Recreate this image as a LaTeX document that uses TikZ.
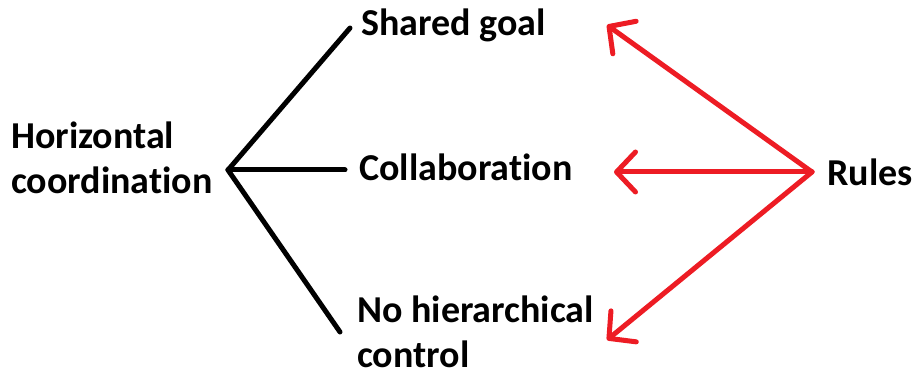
\documentclass[tikz,border=0pt]{standalone}
\usepackage{fontspec}
\setmainfont{Carlito}[Ligatures=NoCommon]
\usetikzlibrary{arrows.meta}
\definecolor{rulered}{RGB}{237,28,36}
\tikzset{
	lbl/.style={inner sep=0pt,anchor=west,align=left,font=\fontsize{38}{45}\selectfont\bfseries},
	branch/.style={line width=5pt,line cap=round,line join=round},
	ruleto/.style={rulered,line width=5pt,line cap=round,-{Straight Barb[length=19pt,width=40pt,round]}}
}
\begin{document}
\begin{tikzpicture}[x=1pt,y=-1pt]
				\useasboundingbox (0,0) rectangle (914,374);
				\node[lbl] (HC) at (11,158) {Horizontal\\coordination};
				\node[lbl] (SG) at (361,25) {Shared goal};
				\node[lbl] (CO) at (359,167) {Collaboration};
				\node[lbl] (NH) at (357,332) {No hierarchical\\control};
				\node[lbl] (RU) at (827,172) {Rules};
				\coordinate (hub) at (228,170);
				\coordinate (SGend) at (350,28);
				\coordinate (COend) at (345,170);
				\coordinate (NHend) at (340,332);
				\coordinate (SGtip) at (607,25);
				\coordinate (COtip) at (614,172);
				\coordinate (NHtip) at (607,340);
				\coordinate (src) at (812,172);
				\foreach \P in {SGend,COend,NHend} \draw[branch] (hub)--(\P);
				\foreach \P in {SGtip,COtip,NHtip} \draw[ruleto] (src)--(\P);
			\end{tikzpicture}
\end{document}
